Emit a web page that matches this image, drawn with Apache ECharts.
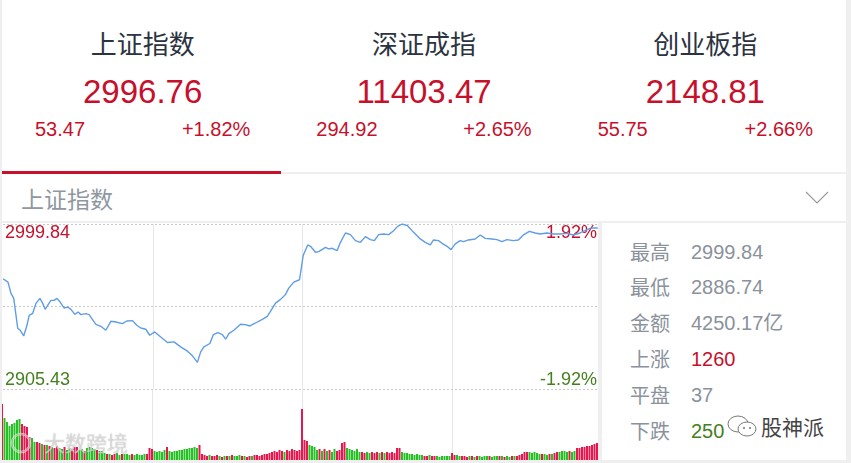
<!DOCTYPE html>
<html>
<head>
<meta charset="utf-8">
<script src="https://cdn.jsdelivr.net/npm/echarts@6/dist/echarts.min.js"></script>
<style>
  body { margin: 0; background: #efefef; }
  #page { position: relative; width: 851px; height: 463px; background: #efefef; overflow: hidden;
    font-family: "Liberation Sans", Arial, "Noto Sans CJK SC", sans-serif; }
  .panel { position: absolute; background: #fff; }
  .t { position: absolute; white-space: nowrap; }
  .title { font-family: "Noto Sans CJK SC", sans-serif; font-size: 26px; line-height: 36px; color: #2b3340; text-align: center; }
  .big { font-size: 33px; line-height: 40px; color: #c6102c; text-align: center; }
  .small { font-size: 20px; line-height: 26px; color: #c6102c; }
  .lab { font-family: "Noto Sans CJK SC", sans-serif; font-size: 20px; line-height: 28px; color: #8a929c; }
  .val { font-size: 20px; line-height: 28px; color: #8a929c; }
</style>
</head>
<body>
<div id="page">
  <div class="panel" style="left:2px;top:0;width:844px;height:172px;"></div>
  <div class="panel" style="left:2px;top:174px;width:844px;height:47px;"></div>
  <div class="panel" style="left:602px;top:223px;width:244px;height:237px;"></div>
  <div id="header"></div>
  <div style="position:absolute;left:2px;top:171px;width:279px;height:3px;background:#c6102c;"></div>
  <div class="t" style="left:21px;top:183px;font-family:'Noto Sans CJK SC';font-size:23px;line-height:30px;color:#8f97a1;">上证指数</div>
  <svg style="position:absolute;left:800px;top:186px" width="34" height="24">
    <polyline points="6,6 17,17 28,6" fill="none" stroke="#9a9a9a" stroke-width="1.2"/>
  </svg>
  <div id="chart" style="position:absolute;left:2px;top:223px;width:600px;height:237px;background:#fff;"></div>
  <div style="position:absolute;left:598px;top:223px;width:4px;height:237px;background:#efefef;z-index:3;"></div>
  <div class="t" style="left:44px;top:428px;font-family:'Noto Sans CJK SC';font-size:21px;line-height:28px;color:rgba(255,255,255,0.55);text-shadow:0 0 1px rgba(120,120,120,0.7);z-index:4;">大数跨境</div>
  <svg style="position:absolute;left:8px;top:430px;z-index:4;opacity:0.6" width="34" height="26">
    <circle cx="13" cy="13" r="9" fill="none" stroke="#fff" stroke-width="2.5"/>
    <circle cx="13" cy="13" r="9" fill="none" stroke="#999" stroke-width="0.6"/>
  </svg>
  <div id="stats"></div>
  <svg style="position:absolute;left:726px;top:412px;z-index:4" width="34" height="30">
    <ellipse cx="12" cy="12" rx="10" ry="8" fill="none" stroke="#777" stroke-width="1"/>
    <ellipse cx="21" cy="17" rx="9" ry="7" fill="#fff" stroke="#777" stroke-width="1"/>
    <circle cx="18" cy="16" r="1" fill="#777"/><circle cx="24" cy="16" r="1" fill="#777"/>
  </svg>
  <div class="t" style="left:761px;top:411px;font-family:'Noto Sans CJK SC';font-size:21px;line-height:30px;color:#444;z-index:4;">股神派</div>
</div>
<script>
// header indices
const indexNames = ["上证指数", "深证成指", "创业板指"];
const indexValues = ["2996.76", "11403.47", "2148.81"];
const indexChanges = ["53.47", "294.92", "55.75"];
const indexPercents = ["+1.82%", "+2.65%", "+2.66%"];

// right side stats
const statLabels = ["最高", "最低", "金额", "上涨", "平盘", "下跌"];
const statValues = ["2999.84", "2886.74", "4250.17亿", "1260", "37", "250"];

// axis labels of the intraday chart
const priceMax = 2999.84;
const priceMin = 2905.43;
const pctMax = 1.92;

// intraday line, minute from 9:30 (0..240) and index value
const lineMinutes = [0, 2, 3.2, 4.3, 5.9, 6.9, 8.3, 8.8, 9.6, 10.5, 11.9, 13.2, 14.8, 15.9, 16.9, 17.9, 19.2, 20.5, 21.6, 22.9,
  24.5, 25.9, 27.2, 28.8, 30.1, 31.2, 33.2, 34.5, 37.2, 39.2, 41.2, 43.2, 45.2, 47.9, 49.6, 51.9, 53.6, 55.2, 57.2, 58.8,
  60.8, 63.2, 65.9, 68.5, 71.2, 73.9, 75.9, 77.9, 79.2, 80.5, 82.9, 84.3, 86.1, 87.9, 89.2, 90.5, 92.5, 95.2, 97.2, 98.9,
  101.2, 103.9, 105.9, 109.2, 111.2, 113.2, 114.5, 116.5, 118.8, 119.5, 120.3, 122.1, 123.2, 125.2, 126.5, 129.2, 130.5, 131.9, 133.9, 135.2,
  137.2, 139.2, 141.2, 143.2, 145.2, 147.2, 148.8, 150.5, 152.5, 154.5, 156.5, 158.1, 159.9, 162.1, 164.5, 167.2, 169.2, 171.2, 172.5, 174.5,
  175.9, 177.9, 179.5, 181.2, 183.2, 184.5, 186.5, 189.2, 191.2, 193.2, 195.9, 197.9, 199.9, 201.9, 204.5, 206.5, 208.5, 210.9, 213.2, 215.2,
  217.9, 220.5, 223.2, 225.9, 228.5, 231.2, 233.2, 235.2, 236.5, 238.3];
const linePrices = [2968.50, 2966.56, 2960.12, 2957.28, 2940.18, 2939.04, 2935.79, 2935.79, 2941.89, 2947.59, 2948.73, 2954.43, 2957.28, 2954.43, 2951.01, 2953.29, 2956.14, 2956.14, 2957.28, 2955.17,
  2951.75, 2952.32, 2951.01, 2948.16, 2949.47, 2947.99, 2948.56, 2947.99, 2942.46, 2941.32, 2939.04, 2944.17, 2943.77, 2942.86, 2944.34, 2944.57, 2941.89, 2940.35, 2939.61, 2936.19,
  2938.07, 2935.22, 2932.03, 2932.38, 2929.53, 2927.08, 2924.40, 2920.64, 2926.68, 2929.53, 2931.46, 2936.59, 2937.73, 2936.59, 2933.91, 2937.16, 2939.04, 2942.46, 2942.29, 2941.49,
  2943.20, 2945.31, 2947.02, 2954.60, 2956.71, 2959.56, 2963.15, 2966.56, 2967.93, 2968.10, 2982.01, 2987.87, 2987.08, 2983.66, 2984.06, 2986.51, 2985.59, 2985.94, 2984.63, 2989.36,
  2994.71, 2993.74, 2990.32, 2989.36, 2992.60, 2990.89, 2990.32, 2993.74, 2994.14, 2993.74, 2996.02, 2998.47, 2999.84, 2998.87, 2995.05, 2991.29, 2989.36, 2987.87, 2990.72, 2990.32,
  2988.79, 2987.08, 2985.20, 2988.44, 2990.32, 2989.75, 2990.72, 2991.29, 2993.57, 2991.63, 2991.29, 2990.89, 2989.75, 2990.89, 2990.32, 2990.72, 2993.57, 2995.62, 2994.71, 2994.14,
  2994.71, 2994.14, 2994.14, 2994.48, 2993.57, 2994.71, 2996.02, 2997.33, 2997.56, 2997.56];

// volume per minute (relative units) and direction r = up, g = down
const volumes = [
  56, 42, 38, 34, 36, 37, 40, 41, 36, 34,
  33, 23, 22, 18, 18, 17, 16, 15, 15, 14,
  13, 12, 14, 12, 11, 13, 10, 12, 11, 13,
  13, 10, 11, 9, 12, 13, 12, 11, 10, 9,
  9, 7, 6, 6, 5, 6, 7, 5, 6, 6,
  6, 5, 6, 5, 6, 5, 5, 6, 6, 12,
  11, 9, 8, 9, 8, 10, 13, 9, 8, 9,
  9, 10, 10, 11, 11, 12, 12, 13, 12, 15,
  6, 5, 4, 5, 4, 4, 5, 4, 3, 4,
  4, 4, 5, 4, 4, 5, 4, 4, 3, 4,
  4, 5, 5, 4, 5, 6, 6, 7, 8, 9,
  8, 10, 9, 8, 10, 9, 11, 10, 9, 10,
  51, 20, 19, 15, 14, 13, 10, 11, 9, 11,
  9, 10, 8, 11, 9, 10, 17, 18, 12, 11,
  10, 9, 11, 8, 8, 7, 8, 7, 8, 7,
  8, 7, 8, 7, 8, 7, 8, 7, 12, 12,
  8, 7, 7, 6, 6, 5, 6, 5, 5, 4,
  4, 5, 4, 4, 4, 3, 4, 4, 4, 4,
  7, 5, 5, 4, 4, 4, 3, 4, 4, 3,
  4, 4, 3, 4, 4, 4, 3, 4, 4, 4,
  4, 3, 4, 3, 4, 4, 4, 5, 6, 8,
  8, 8, 7, 8, 7, 6, 6, 6, 5, 6,
  6, 7, 8, 8, 9, 9, 8, 9, 8, 9,
  12, 12, 13, 13, 14, 14, 15, 16, 17, 19, 19
];
const volumeDir = [
  "rgggggggrr", "rrggrrgrgr", "grrggrggrr", "rggrggggrg", "ggrgrrggrg",
  "ggrgggggrr", "rgggggrggg", "gggggggggr", "rrrgrrrgrg", "rgrgggrgrr",
  "grrrrrrrrr", "rrrgrrrrrr", "rrrggggrgr", "grggrrrrgg", "ggggrrggrr",
  "rgrgrrrrrr", "gggggggggr", "rgrrgggggg", "rrggrrrgrg", "rggggrgggr",
  "grggrgrrrr", "rgggggrggr", "grrggggrgg", "rrrrrrrrrrr"
].join("");

const RED = "#c6102c";
const GREEN = "#44801f";
const BAR_RED = "#e8164e";
const BAR_GREEN = "#26c026";

// header + stats (plain html text)
const header = document.getElementById("header");
const colW = 844 / 3;
indexNames.forEach((name, k) => {
  const left = 2 + colW * k;
  header.insertAdjacentHTML("beforeend",
    `<div class="t title" style="left:${left}px;width:${colW}px;top:25px;">${name}</div>` +
    `<div class="t big" style="left:${left}px;width:${colW}px;top:72px;">${indexValues[k]}</div>` +
    `<div class="t small" style="left:${left + 33}px;top:116px;">${indexChanges[k]}</div>` +
    `<div class="t small" style="left:${left}px;width:${colW - 33}px;top:116px;text-align:right;">${indexPercents[k]}</div>`);
});
const stats = document.getElementById("stats");
statLabels.forEach((lab, k) => {
  const top = 251.5 + 35.9 * k - 14;
  let color = "#8a929c";
  if (lab === "上涨") color = RED;
  if (lab === "下跌") color = GREEN;
  stats.insertAdjacentHTML("beforeend",
    `<div class="t lab" style="left:630px;top:${top}px;">${lab}</div>` +
    `<div class="t val" style="left:691px;top:${top}px;color:${color};">${statValues[k]}</div>`);
});

// chart
const chart = echarts.init(document.getElementById("chart"));
const near = (a, b) => Math.abs(a - b) < 1e-6;
const vLines = { show: true, showMinLine: false, showMaxLine: false, lineStyle: { color: "#e6e6e6", width: 1 } };

chart.setOption({
  animation: false,
  backgroundColor: "#fff",
  grid: [
    { left: 0, top: 1, width: 600, height: 165 },
    { left: 0, top: 167, width: 600, height: 70 }
  ],
  xAxis: [
    {
      type: "value", gridIndex: 0, min: 0, max: 240, interval: 60,
      axisLine: { show: false }, axisTick: { show: false }, axisLabel: { show: false },
      splitLine: vLines
    },
    {
      type: "value", gridIndex: 1, min: 0, max: 240, interval: 60,
      axisLine: { show: false }, axisTick: { show: false }, axisLabel: { show: false },
      splitLine: vLines
    }
  ],
  yAxis: [
    {
      type: "value", gridIndex: 0, min: priceMin, max: priceMax, interval: (priceMax - priceMin) / 2,
      axisLine: { show: false }, axisTick: { show: false },
      splitLine: { show: true, lineStyle: { color: "#c8c8c8", type: [2, 2], width: 1 } },
      axisLabel: {
        inside: true, margin: 2, fontSize: 18, fontFamily: "Liberation Sans, Arial",
        verticalAlignMinLabel: "bottom", verticalAlignMaxLabel: "top",
        formatter: v => near(v, priceMax) ? priceMax.toFixed(2) : near(v, priceMin) ? priceMin.toFixed(2) : "",
        color: v => (v > (priceMax + priceMin) / 2 ? RED : GREEN)
      }
    },
    {
      type: "value", gridIndex: 0, position: "right", min: -pctMax, max: pctMax, interval: pctMax,
      axisLine: { show: false }, axisTick: { show: false }, splitLine: { show: false },
      axisLabel: {
        inside: true, margin: 5, fontSize: 18, fontFamily: "Liberation Sans, Arial",
        verticalAlignMinLabel: "bottom", verticalAlignMaxLabel: "top",
        formatter: v => v > 0 ? pctMax.toFixed(2) + "%" : v < 0 ? "-" + pctMax.toFixed(2) + "%" : "",
        color: v => (v > 0 ? RED : GREEN)
      }
    },
    {
      type: "value", gridIndex: 1, min: 0, max: 70,
      axisLine: { show: false }, axisTick: { show: false }, axisLabel: { show: false }, splitLine: { show: false }
    }
  ],
  series: [
    {
      type: "line", xAxisIndex: 0, yAxisIndex: 0, symbol: "none", z: 3,
      lineStyle: { color: "#5f9de6", width: 1.4 },
      data: lineMinutes.map((m, i) => [m, linePrices[i]])
    },
    {
      type: "bar", xAxisIndex: 1, yAxisIndex: 2, barWidth: 2,
      data: volumes.map((v, i) => ({
        value: [i, v],
        itemStyle: { color: volumeDir[i] === "r" ? BAR_RED : BAR_GREEN }
      }))
    }
  ]
});
</script>
</body>
</html>
